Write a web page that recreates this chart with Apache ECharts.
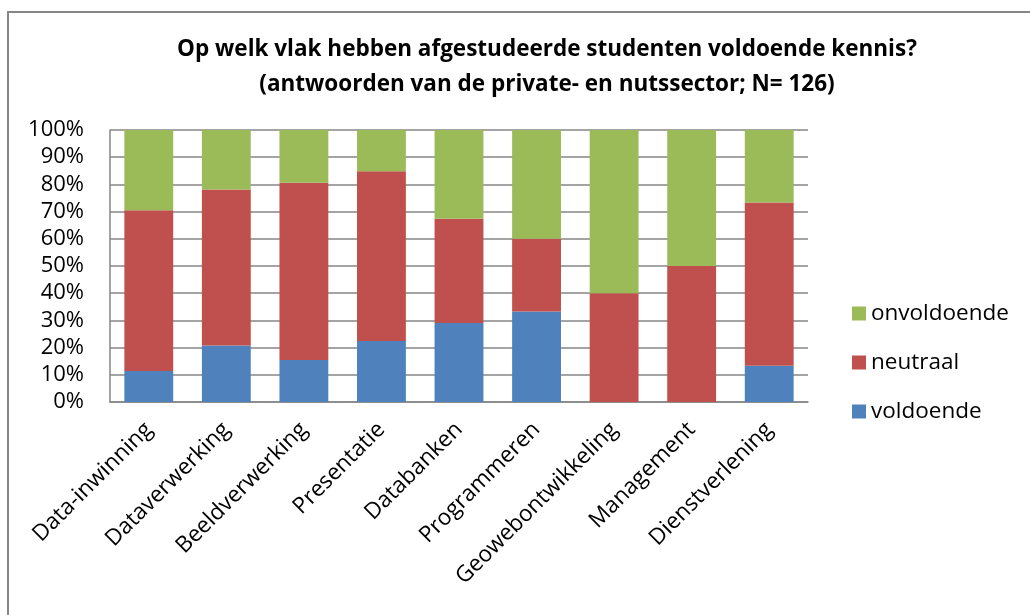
<!DOCTYPE html>
<html>
<head>
<meta charset="utf-8">
<style>
  html, body { margin: 0; padding: 0; background: #ffffff; }
  #chart { width: 1030px; height: 615px; }
</style>
<script src="https://cdn.jsdelivr.net/npm/echarts@6/dist/echarts.min.js"></script>
</head>
<body>
<div id="chart"></div>
<script>
// Knowledge areas asked about
const categories = [
  'Data-inwinning', 'Dataverwerking', 'Beeldverwerking', 'Presentatie',
  'Databanken', 'Programmeren', 'Geowebontwikkeling', 'Management', 'Dienstverlening'
];

// Share of answers per area (percent)
const voldoende   = [11.4, 20.8, 15.4, 22.4, 29.0, 33.3, 0.0, 0.0, 13.3];
const neutraal    = [59.1, 57.3, 65.2, 62.4, 38.4, 26.7, 40.0, 50.0, 60.0];
const onvoldoende = [29.5, 21.9, 19.4, 15.2, 32.6, 40.0, 60.0, 50.0, 26.7];

const titleLines = [
  'Op welk vlak hebben afgestudeerde studenten voldoende kennis?',
  '(antwoorden van de private- en nutssector; N= 126)'
];

const FONT = '"Open Sans", "Liberation Sans", sans-serif';
const GRID_COLOR = '#868686';

const chart = echarts.init(document.getElementById('chart'), null, { renderer: 'canvas' });

chart.setOption({
  animation: false,
  backgroundColor: '#ffffff',
  color: ['#4F81BD', '#C0504D', '#9BBB59'],
  graphic: [{
    type: 'rect',
    shape: { x: 8, y: 12, width: 1100, height: 700 },
    style: { fill: 'none', stroke: '#868686', lineWidth: 2 },
    silent: true
  }],
  title: {
    text: titleLines.join('\n'),
    left: 547,
    top: 32,
    textAlign: 'center',
    padding: 0,
    textStyle: {
      fontFamily: FONT,
      fontWeight: 'bold',
      fontSize: 22.5,
      lineHeight: 35,
      color: '#000000'
    }
  },
  legend: {
    orient: 'vertical',
    left: 852,
    top: 302,
    padding: 0,
    itemWidth: 14,
    itemHeight: 14,
    itemGap: 26,
    icon: 'rect',
    data: ['onvoldoende', 'neutraal', 'voldoende'],
    textStyle: { fontFamily: FONT, fontSize: 22.5, lineHeight: 22, color: '#000000' }
  },
  grid: { left: 110, right: 222, top: 130, bottom: 213, containLabel: false },
  xAxis: {
    type: 'category',
    data: categories,
    axisLine: { show: true, lineStyle: { color: GRID_COLOR, width: 1.5 } },
    axisTick: { show: false },
    axisLabel: {
      rotate: 45,
      interval: 0,
      margin: 24,
      fontFamily: FONT,
      fontSize: 22.5,
      color: '#000000'
    }
  },
  yAxis: {
    type: 'value',
    min: 0,
    max: 100,
    interval: 10,
    axisLine: { show: true, lineStyle: { color: GRID_COLOR, width: 1.5 } },
    axisTick: { show: false },
    splitLine: { show: true, lineStyle: { color: GRID_COLOR, width: 1.5 } },
    axisLabel: {
      formatter: '{value}%',
      margin: 26,
      fontFamily: FONT,
      fontSize: 22,
      color: '#000000'
    }
  },
  series: [
    { name: 'voldoende', type: 'bar', stack: 'total', data: voldoende, barCategoryGap: '37%' },
    { name: 'neutraal', type: 'bar', stack: 'total', data: neutraal, barCategoryGap: '37%' },
    { name: 'onvoldoende', type: 'bar', stack: 'total', data: onvoldoende, barCategoryGap: '37%' }
  ]
});
</script>
</body>
</html>
